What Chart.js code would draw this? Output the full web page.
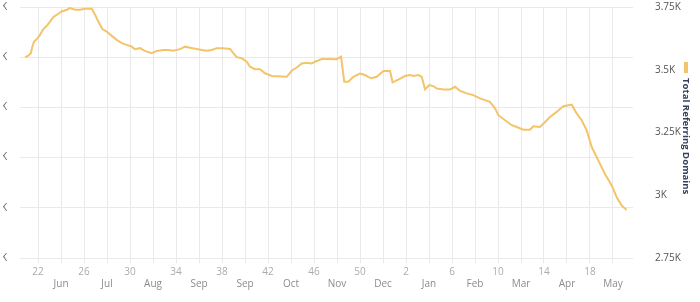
<!DOCTYPE html>
<html>
<head>
<meta charset="utf-8">
<script src="https://cdn.jsdelivr.net/npm/chart.js@4/dist/chart.umd.min.js"></script>
<style>
  html, body { margin: 0; padding: 0; background: #fff; }
  #wrap { position: relative; width: 700px; height: 302px; }
  #clip { position: absolute; left: 3px; top: 0; width: 697px; height: 302px; overflow: hidden; }
  #chart { position: absolute; left: -33px; top: 0; }
</style>
</head>
<body>
<div id="wrap"><div id="clip"><canvas id="chart" width="730" height="302"></canvas></div></div>
<script>
// x = week number counted on from week 22 (54 = week 2 of the next year)
const weeks = [
  20.87, 21.16, 21.37, 21.5, 21.65, 21.89, 22.17, 22.46, 22.76, 23.04,
  23.33, 23.63, 24.06, 24.5, 24.78, 25.22, 25.65, 26.09, 26.67, 26.96,
  27.24, 27.59, 27.97, 28.41, 28.84, 29.28, 29.71, 30.15, 30.43, 30.87,
  31.24, 31.45, 31.89, 32.32, 32.9, 33.33, 33.77, 34.35, 34.78, 35.22,
  35.8, 36.23, 36.67, 37.1, 37.54, 38.11, 38.7, 38.98, 39.28, 39.71,
  40.15, 40.43, 40.87, 41.3, 41.74, 42.32, 43.63, 44.06, 44.5, 44.93,
  45.37, 45.8, 46.09, 46.67, 47.24, 47.97, 48.35, 48.63, 48.98, 49.42,
  50.0, 50.43, 50.96, 51.45, 52.03, 52.61, 52.83, 53.33, 53.91, 54.35,
  54.63, 55.07, 55.37, 55.65, 56.03, 56.37, 56.67, 57.24, 57.83, 58.26,
  58.7, 59.28, 59.85, 60.43, 60.87, 61.3, 61.74, 62.03, 62.61, 63.19,
  63.63, 64.2, 64.78, 65.07, 65.65, 66.09, 66.52, 67.1, 67.68, 68.41,
  68.84, 69.28, 69.71, 70.15, 70.72, 71.3, 71.89, 72.32, 72.76, 73.19
];
const domains = [
  3550, 3556, 3566, 3592, 3612, 3622, 3639, 3662, 3675, 3692,
  3710, 3719, 3732, 3739, 3746, 3739, 3739, 3743, 3743, 3719,
  3692, 3662, 3652, 3635, 3619, 3606, 3599, 3592, 3582, 3586,
  3576, 3572, 3566, 3575, 3579, 3579, 3576, 3582, 3592, 3588,
  3583, 3579, 3576, 3579, 3586, 3586, 3583, 3566, 3550, 3546,
  3532, 3512, 3502, 3502, 3486, 3475, 3472, 3496, 3509, 3525,
  3528, 3525, 3532, 3543, 3543, 3542, 3552, 3452, 3452, 3472,
  3485, 3479, 3466, 3472, 3495, 3495, 3450, 3461, 3475, 3479,
  3475, 3479, 3472, 3422, 3439, 3435, 3425, 3421, 3421, 3432,
  3416, 3406, 3399, 3386, 3379, 3372, 3346, 3319, 3299, 3279,
  3272, 3261, 3261, 3275, 3272, 3292, 3312, 3332, 3355, 3361,
  3326, 3299, 3259, 3192, 3139, 3085, 3039, 2992, 2959, 2941
];

const weekTicks = [22, 26, 30, 34, 38, 42, 46, 50, 54, 58, 62, 66, 70];
const weekLabels = ['22', '26', '30', '34', '38', '42', '46', '50', '2', '6', '10', '14', '18'];
const monthTicks = [24, 28, 32, 36, 40, 44, 48, 52, 56, 60, 64, 68, 72];
const monthLabels = ['Jun', 'Jul', 'Aug', 'Sep', 'Sep', 'Oct', 'Nov', 'Dec', 'Jan', 'Feb', 'Mar', 'Apr', 'May'];

const rightTicks = [2750, 3000, 3250, 3500, 3750];

const lineColor = '#f3c46a';
const gridColor = '#e9e9e9';

const labelByTick = {};
weekTicks.forEach((w, i) => { labelByTick[w] = [weekLabels[i], '']; });
monthTicks.forEach((w, i) => { labelByTick[w] = ['', monthLabels[i]]; });

// no automatic padding above/below the plot from the y labels
function fixVertical(width) {
  return scale => {
    scale.width = width;
    scale.paddingTop = 0;
    scale.paddingBottom = 0;
  };
}

const sideLegend = {
  id: 'sideLegend',
  afterDraw(chart) {
    const ctx = chart.ctx;
    ctx.save();
    ctx.fillStyle = lineColor;
    ctx.fillRect(714, 62, 4, 11);
    ctx.translate(716, 78);
    ctx.rotate(Math.PI / 2);
    ctx.fillStyle = '#33405a';
    ctx.font = 'bold 9.6px "Open Sans"';
    ctx.textAlign = 'left';
    ctx.textBaseline = 'middle';
    ctx.fillText('Total Referring Domains', 0, 0);
    ctx.restore();
  }
};

new Chart(document.getElementById('chart'), {
  type: 'line',
  data: {
    datasets: [{
      label: 'Total Referring Domains',
      data: weeks.map((w, i) => ({ x: w, y: domains[i] })),
      borderColor: lineColor,
      borderWidth: 2,
      pointRadius: 0,
      tension: 0,
      yAxisID: 'y'
    }]
  },
  options: {
    responsive: false,
    animation: false,
    devicePixelRatio: 1,
    layout: { padding: { top: 7, bottom: 0 } },
    plugins: { legend: { display: false }, tooltip: { enabled: false } },
    scales: {
      x: {
        type: 'linear',
        min: 20.43,
        max: 73.74,
        afterBuildTicks(scale) {
          scale.ticks = weekTicks.concat(monthTicks).sort((a, b) => a - b).map(v => ({ value: v }));
        },
        afterFit(scale) {
          scale.height = 44;
          scale.paddingLeft = 0;
          scale.paddingRight = 0;
        },
        border: { display: false },
        grid: { color: gridColor, drawTicks: true, tickLength: 5 },
        ticks: {
          autoSkip: false,
          maxRotation: 0,
          padding: 3,
          font: { family: 'Open Sans', size: 10 },
          color: c => (c.index % 2 ? '#8c8c8c' : '#ababab'),
          callback: v => labelByTick[v] || ''
        }
      },
      yL: {
        position: 'left',
        min: 0,
        max: 5,
        afterFit: fixVertical(50),
        border: { display: false },
        grid: { color: gridColor, drawTicks: false },
        ticks: {
          stepSize: 1,
          padding: 13,
          font: { family: 'Open Sans', size: 10 },
          color: '#666',
          callback: v => v + 'K'
        }
      },
      y: {
        position: 'right',
        min: 2750,
        max: 3750,
        afterBuildTicks(scale) {
          scale.ticks = rightTicks.map(v => ({ value: v }));
        },
        afterFit: fixVertical(67),
        border: { display: false },
        grid: { display: false },
        ticks: {
          padding: 14,
          font: { family: 'Open Sans', size: 10 },
          color: '#555',
          callback: v => (v / 1000) + 'K'
        }
      }
    }
  },
  plugins: [sideLegend]
});
</script>
</body>
</html>
